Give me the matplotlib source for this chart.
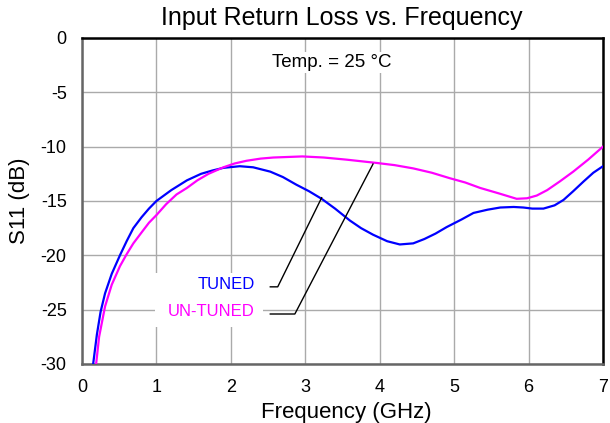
import matplotlib.pyplot as plt

plt.rcParams['font.family'] = ['Liberation Sans', 'DejaVu Sans']
plt.rcParams['axes.unicode_minus'] = False

# values
freq_tuned = [0.15, 0.2, 0.25, 0.31, 0.4, 0.51, 0.6, 0.69, 0.8, 0.9, 1.0, 1.2,
              1.41, 1.6, 1.75, 1.9, 2.12, 2.3, 2.53, 2.7, 2.88, 3.05, 3.22,
              3.4, 3.6, 3.75, 3.91, 4.1, 4.27, 4.45, 4.6, 4.75, 4.9, 5.1, 5.26,
              5.45, 5.62, 5.8, 5.93, 6.05, 6.2, 6.35, 6.47, 6.6, 6.74, 6.87, 7.0]
s11_tuned = [-30, -27.3, -25.2, -23.5, -21.7, -20.0, -18.7, -17.5, -16.5, -15.7,
             -15.0, -14.0, -13.1, -12.5, -12.2, -11.95, -11.8, -11.9, -12.3,
             -12.8, -13.5, -14.1, -14.8, -15.7, -16.8, -17.5, -18.1, -18.7,
             -19.0, -18.9, -18.5, -18.0, -17.4, -16.7, -16.1, -15.8, -15.6,
             -15.55, -15.6, -15.7, -15.7, -15.4, -14.9, -14.1, -13.2, -12.4,
             -11.8]

freq_untuned = [0.19, 0.23, 0.31, 0.4, 0.51, 0.6, 0.69, 0.8, 0.9, 1.0, 1.13,
                1.27, 1.41, 1.55, 1.7, 1.9, 2.05, 2.21, 2.4, 2.57, 2.96, 3.25,
                3.56, 3.96, 4.2, 4.45, 4.7, 4.94, 5.15, 5.35, 5.6, 5.84, 5.98,
                6.11, 6.25, 6.42, 6.6, 6.8, 7.0]
s11_untuned = [-30, -27.5, -24.7, -22.7, -21.0, -19.9, -18.9, -17.9, -17.0,
               -16.3, -15.3, -14.4, -13.8, -13.1, -12.5, -11.9, -11.55, -11.3,
               -11.1, -11.0, -10.9, -11.0, -11.2, -11.5, -11.7, -12.0, -12.4,
               -12.9, -13.3, -13.8, -14.3, -14.8, -14.75, -14.5, -14.0, -13.2,
               -12.3, -11.2, -10.0]

xticks = [0, 1, 2, 3, 4, 5, 6, 7]
yticks = [0, -5, -10, -15, -20, -25, -30]

fig = plt.figure(figsize=(6.1, 4.23), dpi=100)
ax = fig.add_axes([0.1344, 0.1395, 0.8541, 0.7707])

ax.plot(freq_tuned, s11_tuned, color='#0000ff', lw=1.6, zorder=3)
ax.plot(freq_untuned, s11_untuned, color='#ff00ff', lw=1.6, zorder=3)

ax.set_xlim(0, 7)
ax.set_ylim(-30, 0)
ax.set_xticks(xticks)
ax.set_yticks(yticks)
ax.tick_params(length=0, labelsize=13)
ax.tick_params(axis='y', pad=11)
ax.tick_params(axis='x', pad=10.5)
ax.grid(True, color='#aaaaaa', lw=1.0)
ax.set_axisbelow(True)

for s in ['left', 'bottom']:
    ax.spines[s].set_color('#666666')
    ax.spines[s].set_linewidth(1.8)
for s in ['top', 'right']:
    ax.spines[s].set_color('black')
    ax.spines[s].set_linewidth(1.8)

fig.text(341.7 / 610, 1 - 25 / 423, 'Input Return Loss vs. Frequency', fontsize=18,
         ha='center', va='baseline')
fig.text(346 / 610, 1 - 418 / 423, 'Frequency (GHz)', fontsize=16,
         ha='center', va='baseline')
fig.text(20 / 610, 1 - 201 / 423, 'S11 (dB)', fontsize=16, rotation=90,
         ha='center', va='center')

ax.text(3.36, -2.7, 'Temp. = 25 °C', ha='center', va='baseline', fontsize=13.5,
        bbox=dict(facecolor='white', edgecolor='none', pad=1.5), zorder=4)

# white box behind the labels
ax.add_patch(plt.Rectangle((0.98, -26.6), 1.45, 5.0, facecolor='white',
                           edgecolor='none', zorder=2))
ax.text(2.32, -22.7, 'TUNED', color='#0000ff', ha='right', va='center',
        fontsize=12, zorder=4)
ax.text(2.32, -25.2, 'UN-TUNED', color='#ff00ff', ha='right', va='center',
        fontsize=12, zorder=4)

ax.plot([2.53, 2.63, 3.22], [-22.9, -22.9, -14.7], color='black', lw=1.0, zorder=4)
ax.plot([2.53, 2.86, 3.91], [-25.4, -25.4, -11.6], color='black', lw=1.0, zorder=4)

plt.savefig('out.png', dpi=100)
